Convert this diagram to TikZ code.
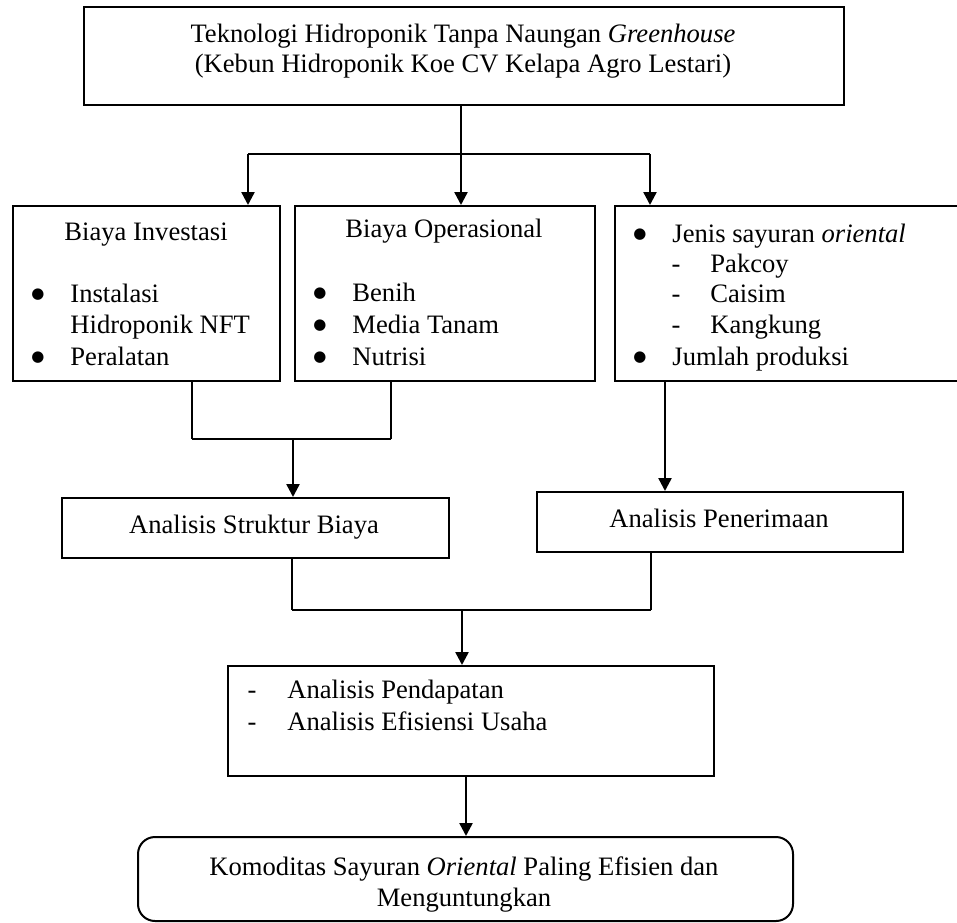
\documentclass[tikz,border=0pt]{standalone}
\usepackage{fontspec}
\setmainfont{Liberation Serif}
\newfontfamily\bulfont{DejaVu Sans}
\usetikzlibrary{arrows.meta}
\newcommand{\bigbul}{\raisebox{1.6pt}{\bulfont\fontsize{7.5pt}{8pt}\selectfont ●}}
\begin{document}
\begin{tikzpicture}[x=0.5pt,y=-0.5pt,
  font=\fontsize{13.3pt}{15.5pt}\selectfont,
  box/.style={draw, line width=1pt, inner sep=0pt, anchor=north west},
  txt/.style={inner sep=0pt, anchor=base west},
  ctr/.style={inner sep=0pt, anchor=base},
  arr/.style={line width=1.2pt, -{Triangle[width=6.5pt,length=6.5pt]}},
  ln/.style={line width=1.2pt},
  thinln/.style={line width=0.7pt}]
\useasboundingbox (0,0) rectangle (957,922);

% boxes
\node[box, minimum width=380pt, minimum height=49pt] (top) at (83,6) {};
\node[box, minimum width=133.5pt, minimum height=87.5pt] (b1) at (12,205) {};
\node[box, minimum width=150pt, minimum height=87.5pt] (b2) at (294,205) {};
\node[box, minimum width=178pt, minimum height=87.5pt] (b3) at (614,205) {};
\node[box, minimum width=193.5pt, minimum height=30pt] (sb) at (61,497) {};
\node[box, minimum width=183pt, minimum height=30pt] (pn) at (536,491) {};
\node[box, minimum width=243pt, minimum height=55pt] (pd) at (227,665) {};
\node[box, rounded corners=8.5pt, minimum width=327.5pt, minimum height=42pt] (fin) at (137,836) {};

% texts
\node[ctr] (t1) at (463,42) {Teknologi Hidroponik Tanpa Naungan \textit{Greenhouse}};
\node[ctr] (t2) at (463,72) {(Kebun Hidroponik Koe CV Kelapa Agro Lestari)};

\node[ctr] (b1t) at (146,240) {Biaya Investasi};
\node[ctr] (b1d1) at (38,302) {\bigbul};
\node[txt] (b1i1) at (70,302) {Instalasi};
\node[txt] (b1i1b) at (70,333) {Hidroponik NFT};
\node[ctr] (b1d2) at (38,365) {\bigbul};
\node[txt] (b1i2) at (70,365) {Peralatan};

\node[ctr] (b2t) at (444,237) {Biaya Operasional};
\node[ctr] (b2d1) at (320,301) {\bigbul};
\node[txt] (b2i1) at (352,301) {Benih};
\node[ctr] (b2d2) at (320,333) {\bigbul};
\node[txt] (b2i2) at (352,333) {Media Tanam};
\node[ctr] (b2d3) at (320,365) {\bigbul};
\node[txt] (b2i3) at (352,365) {Nutrisi};

\node[ctr] (b3d1) at (640,242) {\bigbul};
\node[txt] (b3i1) at (672,242) {Jenis sayuran \textit{oriental}};
\node[ctr] (b3h1) at (676,272) {-};
\node[txt] (b3s1) at (710,272) {Pakcoy};
\node[ctr] (b3h2) at (676,302) {-};
\node[txt] (b3s2) at (710,302) {Caisim};
\node[ctr] (b3h3) at (676,333) {-};
\node[txt] (b3s3) at (710,333) {Kangkung};
\node[ctr] (b3d2) at (640,365) {\bigbul};
\node[txt] (b3i2) at (672,365) {Jumlah produksi};

\node[ctr] (sbt) at (254,533) {Analisis Struktur Biaya};
\node[ctr] (pnt) at (719,527) {Analisis Penerimaan};

\node[ctr] (pdh1) at (252,698) {-};
\node[txt] (pdi1) at (287,698) {Analisis Pendapatan};
\node[ctr] (pdh2) at (252,730) {-};
\node[txt] (pdi2) at (287,730) {Analisis Efisiensi Usaha};

\node[ctr] (fint1) at (464,875) {Komoditas Sayuran \textit{Oriental} Paling Efisien dan};
\node[ctr] (fint2) at (464,906) {Menguntungkan};

% connectors: top split
\coordinate (j1) at (461,154);
\coordinate (j1l) at (248,154);
\coordinate (j1r) at (650,154);
\draw[ln] (top.south -| j1) -- (j1);
\draw[ln] (j1l) -- (j1r);
\draw[arr] (j1l) -- (j1l |- b1.north);
\draw[arr] (j1) -- (j1 |- b2.north);
\draw[arr] (j1r) -- (j1r |- b3.north);

% merge of b1 and b2
\coordinate (m1l) at (192,439);
\coordinate (m1r) at (391,439);
\coordinate (m1) at (293,439);
\draw[thinln] (b1.south -| m1l) -- (m1l);
\draw[thinln] (b2.south -| m1r) -- (m1r);
\draw[ln] (m1l) -- (m1r);
\draw[arr] (m1) -- (m1 |- sb.north);

% b3 to penerimaan
\coordinate (k3) at (665,300);
\draw[arr] (b3.south -| k3) -- (pn.north -| k3);

% merge of sb and pn
\coordinate (m2l) at (292,610);
\coordinate (m2r) at (651,610);
\coordinate (m2) at (462,610);
\draw[thinln] (sb.south -| m2l) -- (m2l);
\draw[thinln] (pn.south -| m2r) -- (m2r);
\draw[ln] (m2l) -- (m2r);
\draw[arr] (m2) -- (m2 |- pd.north);

% pd to final
\coordinate (k4) at (466,800);
\draw[arr] (pd.south -| k4) -- (fin.north -| k4);
\end{tikzpicture}
\end{document}
